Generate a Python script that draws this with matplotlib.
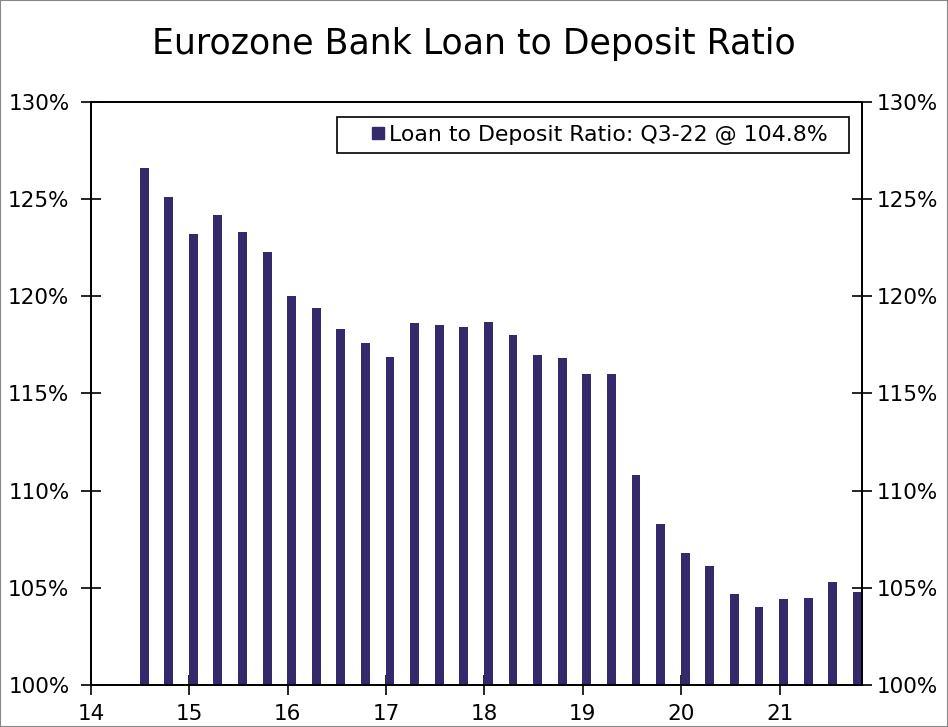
import matplotlib
matplotlib.use("Agg")
import matplotlib.pyplot as plt
from matplotlib.lines import Line2D
from matplotlib.patches import Rectangle

# quarterly loan to deposit ratio, %
ratio = [126.6, 125.1, 123.2, 124.2, 123.3, 122.3, 120.0, 119.4, 118.3, 117.6,
         116.9, 118.6, 118.5, 118.4, 118.7, 118.0, 117.0, 116.8, 116.0, 116.0,
         110.8, 108.3, 106.8, 106.1, 104.7, 104.0, 104.4, 104.5, 105.3, 104.8]
start = 14.54
xpos = [start + 0.25 * i for i in range(len(ratio))]
year_ticks = [14, 15, 16, 17, 18, 19, 20, 21]
pct_ticks = [100, 105, 110, 115, 120, 125, 130]
legend_label = "Loan to Deposit Ratio: Q3-22 @ 104.8%  "
bar_color = "#342A6B"

plt.rcParams['font.family'] = ['DejaVu Sans']

fig = plt.figure(figsize=(9.48, 7.27), dpi=100)
ax = fig.add_axes([0.096, 0.0578, 0.813, 0.802])

ax.bar(xpos, ratio, width=0.09, color=bar_color, zorder=2)

ax.set_xlim(14, 21.835)
ax.set_ylim(100, 130)
ax.set_xticks(year_ticks)
ax.set_xticklabels([str(y) for y in year_ticks])
ax.set_yticks(pct_ticks)
ax.set_yticklabels([f"{p}%" for p in pct_ticks])

for s in ax.spines.values():
    s.set_linewidth(1.3)
ax.tick_params(axis='both', direction='inout', length=14, width=1.2,
               labelsize=15.5, colors='black')
ax.tick_params(axis='x', pad=7)
ax.tick_params(axis='y', pad=8.5)

# right hand copy of the percent axis
ax2 = ax.twinx()
ax2.set_ylim(ax.get_ylim())
ax2.set_yticks(pct_ticks)
ax2.set_yticklabels([f"{p}%" for p in pct_ticks])
ax2.tick_params(axis='y', direction='inout', length=14, width=1.2,
                labelsize=15.5, pad=4)
for s in ax2.spines.values():
    s.set_linewidth(1.3)

fig.suptitle("Eurozone Bank Loan to Deposit Ratio", fontsize=25, y=0.963)

handle = Line2D([], [], linestyle='none', marker='s', markersize=8.5,
                color=bar_color)
leg = ax2.legend([handle], [legend_label], loc='upper right',
                 bbox_to_anchor=(0.984, 0.975), fontsize=15.8,
                 handlelength=3.0, handletextpad=-1.0,
                 fancybox=False, framealpha=1, edgecolor='black',
                 borderpad=0.37, borderaxespad=0)
leg.get_frame().set_linewidth(1.2)

fig.patches.append(Rectangle((0, 0), 1, 1, transform=fig.transFigure,
                             fill=False, edgecolor='#888888', linewidth=1.5))

fig.savefig("out.png", dpi=100)
